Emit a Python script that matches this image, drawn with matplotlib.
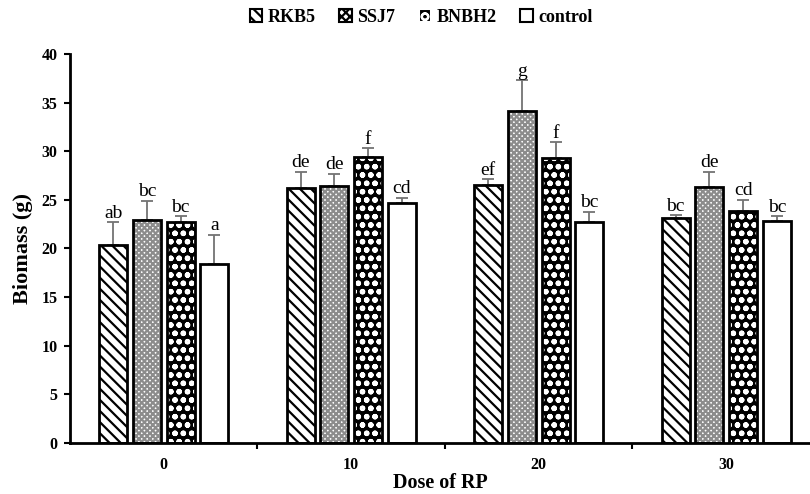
import numpy as np
import matplotlib
matplotlib.use("Agg")
import matplotlib.pyplot as plt
from matplotlib.patches import Patch

plt.rcParams["font.family"] = "Liberation Serif"
plt.rcParams["hatch.linewidth"] = 1.6

doses = ["0", "10", "20", "30"]
series = ["RKB5", "SSJ7", "BNBH2", "control"]

rkb5 = [20.4, 26.2, 26.5, 23.1]
ssj7 = [22.9, 26.4, 34.1, 26.3]
bnbh2 = [22.7, 29.4, 29.3, 23.9]
control = [18.4, 24.7, 22.7, 22.8]

rkb5_err = [2.3, 1.7, 0.6, 0.3]
ssj7_err = [2.0, 1.3, 3.2, 1.6]
bnbh2_err = [0.6, 0.9, 1.6, 1.1]
control_err = [3.0, 0.5, 1.1, 0.5]

rkb5_lab = ["ab", "de", "ef", "bc"]
ssj7_lab = ["bc", "de", "g", "de"]
bnbh2_lab = ["bc", "f", "f", "cd"]
control_lab = ["a", "cd", "bc", "bc"]

values = [rkb5, ssj7, bnbh2, control]
errors = [rkb5_err, ssj7_err, bnbh2_err, control_err]
labels = [rkb5_lab, ssj7_lab, bnbh2_lab, control_lab]

# fill, hatch, hatch colour per series
styles = [
    ("white", "\\\\\\", "black"),
    ("white", "xxxxxx", "0.55"),
    ("black", "oo", "white"),
    ("white", "", "white"),
]

fig = plt.figure(figsize=(8.1, 4.94), dpi=100)
ax = fig.add_axes([70 / 810, 1 - 443 / 494, 740 / 810, 389 / 494])

x = np.arange(len(doses))
width = 0.15
step = 0.18
for i, (vals, errs, labs) in enumerate(zip(values, errors, labels)):
    fc, hatch, hc = styles[i]
    pos = x + (i - 1.5) * step
    ax.bar(pos, vals, width, color=fc, hatch=hatch, edgecolor=hc, linewidth=0, zorder=2)
    ax.bar(pos, vals, width, fill=False, edgecolor="black", linewidth=2, zorder=3)
    ax.errorbar(pos, vals, yerr=[np.zeros(len(errs)), errs], fmt="none",
                ecolor="0.45", elinewidth=1.3, capsize=4, capthick=1.3, zorder=1)
    for p, v, e, t in zip(pos, vals, errs, labs):
        ax.text(p, v + e + 0.05, t, ha="center", va="bottom", fontsize=14)

ax.set_ylim(0, 40)
ax.set_xlim(-0.5, 3.447)
ax.set_yticks(range(0, 41, 5))
ax.set_xticks(x)
ax.set_xticklabels(doses)
ax.set_xticks([0.5, 1.5, 2.5], minor=True)
ax.tick_params(axis="x", which="major", length=0, pad=10)
ax.tick_params(axis="x", which="minor", length=4, width=1.5, direction="out")
ax.tick_params(axis="y", length=4, width=1.5, direction="out", pad=5)
for lab in ax.get_xticklabels() + ax.get_yticklabels():
    lab.set_fontweight("bold")
    lab.set_fontsize(11.5)

for s in ["top", "right"]:
    ax.spines[s].set_visible(False)
for s in ["left", "bottom"]:
    ax.spines[s].set_linewidth(2)

ax.set_ylabel("Biomass (g)", fontsize=16, fontweight="bold", labelpad=6)
ax.set_xlabel("Dose of RP", fontsize=14.5, fontweight="bold", labelpad=0)

legend_hatch = ["\\\\\\", "xxxx", "o", ""]
handles = []
for (fc, hatch, hc), lh, name in zip(styles, legend_hatch, series):
    handles.append(Patch(facecolor=fc, hatch=lh, edgecolor="black" if fc == "white" else "white",
                         linewidth=1.5, label=name))
fig.legend(handles=handles, loc="upper center", bbox_to_anchor=(0.52, 1.015), ncol=4,
           frameon=False, prop={"weight": "bold", "size": 13}, handlelength=0.7,
           handleheight=0.7, handletextpad=0.3, columnspacing=1.3)

fig.savefig("out.png", dpi=100)
